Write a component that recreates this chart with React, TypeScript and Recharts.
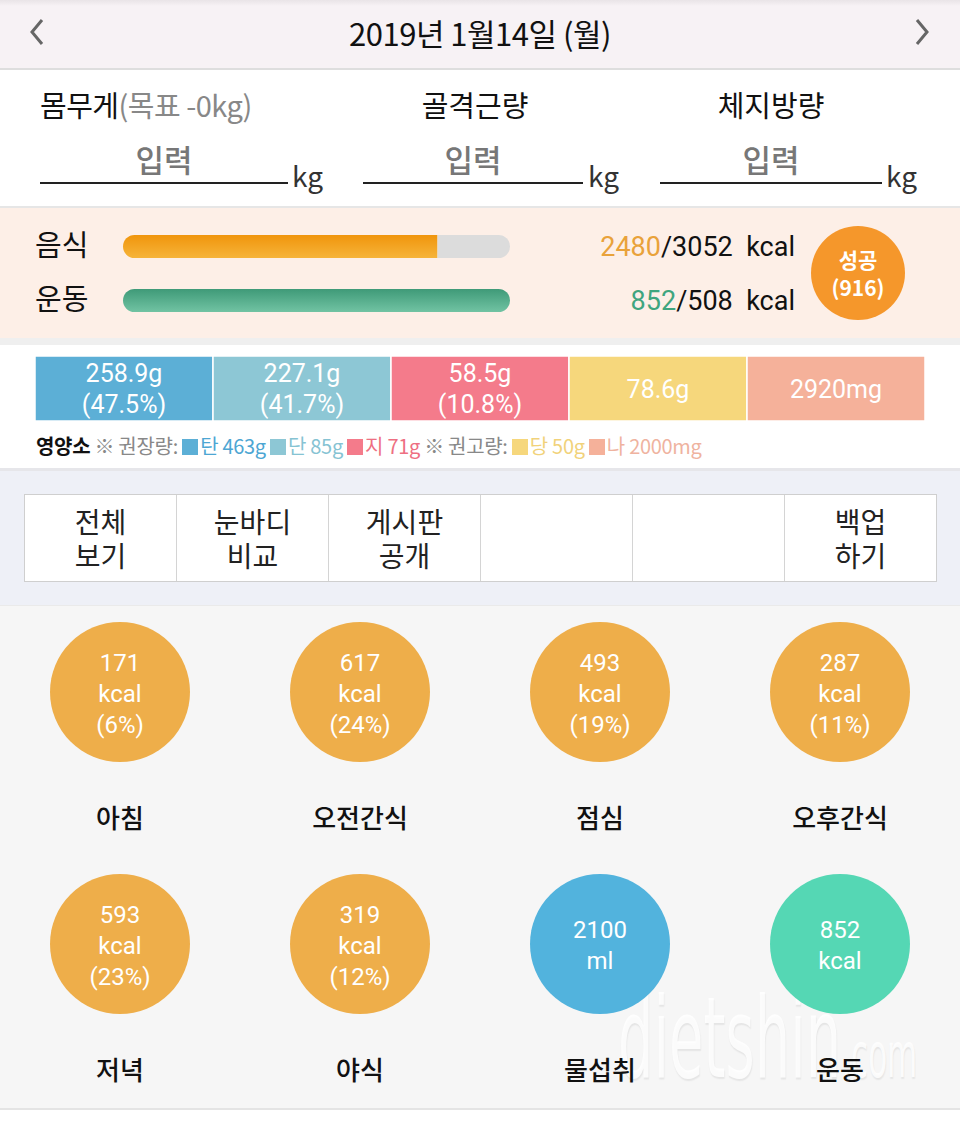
import React from 'react';
import { BarChart, Bar, XAxis, YAxis, ScatterChart, Scatter, LabelList, Cell } from 'recharts';

const DATE_LABEL = '2019년 1월14일 (월)';
const BODY_LABELS = ['몸무게', '골격근량', '체지방량'];
const WEIGHT_GOAL = '(목표 -0kg)';

const ENERGY_NAMES = ['음식', '운동'];
const ENERGY_VALUES = [2480, 852];
const ENERGY_GOALS = [3052, 508];
const RESULT_LABEL = '성공';
const RESULT_VALUE = 916;

const NUTRIENT_NAMES = ['탄', '단', '지', '당', '나'];
const NUTRIENT_AMOUNTS = ['258.9g', '227.1g', '58.5g', '78.6g', '2920mg'];
const NUTRIENT_PCTS = ['47.5%', '41.7%', '10.8%', '', ''];
const NUTRIENT_LIMITS = ['463g', '85g', '71g', '50g', '2000mg'];

const MENU_LABELS = [['전체', '보기'], ['눈바디', '비교'], ['게시판', '공개'], [], [], ['백업', '하기']];

const MEAL_NAMES = ['아침', '오전간식', '점심', '오후간식', '저녁', '야식', '물섭취', '운동'];
const MEAL_VALUES = [171, 617, 493, 287, 593, 319, 2100, 852];
const MEAL_UNITS = ['kcal', 'kcal', 'kcal', 'kcal', 'kcal', 'kcal', 'ml', 'kcal'];
const MEAL_PCTS = [6, 24, 19, 11, 23, 12, null, null];
const MEAL_KINDS = ['food', 'food', 'food', 'food', 'food', 'food', 'water', 'exercise'];

const KR = '"Noto Sans CJK KR", "Noto Sans", sans-serif';
const NUM = 'Roboto, "Noto Sans", sans-serif';

const NUTRIENT_COLORS = ['#5cafd6', '#8dc7d5', '#f47b8b', '#f6d77c', '#f5b19a'];
const NUTRIENT_TEXT = ['#4da6d3', '#86c3d3', '#ee6f82', '#f1d27a', '#efb3a0'];
const KIND_COLORS: Record<string, string> = { food: '#eeae4a', water: '#52b3dd', exercise: '#55d7b4' };

const energyData = ENERGY_NAMES.map((name, i) => {
  const ratio = Math.min(ENERGY_VALUES[i] / ENERGY_GOALS[i], 1);
  return { name, ratio, rest: 1 - ratio };
});

const nutrientData = NUTRIENT_NAMES.map((name, i) => ({
  name,
  amount: NUTRIENT_AMOUNTS[i],
  pct: NUTRIENT_PCTS[i],
  tile: 1,
}));

const mealData = MEAL_NAMES.map((name, i) => ({
  name,
  value: MEAL_VALUES[i],
  unit: MEAL_UNITS[i],
  pct: MEAL_PCTS[i],
  kind: MEAL_KINDS[i],
  col: i % 4,
  row: Math.floor(i / 4),
}));

function roundedPath(x: number, y: number, w: number, h: number, rl: number, rr: number) {
  return `M${x + rl},${y} L${x + w - rr},${y} A${rr},${rr} 0 0 1 ${x + w - rr},${y + h} L${x + rl},${y + h} A${rl},${rl} 0 0 1 ${x + rl},${y} Z`;
}

function EnergyFill(props: any) {
  const { x, y, width, height, payload } = props;
  if (!width) return null;
  const r = height / 2;
  const full = payload.rest <= 0;
  const fill = payload.name === '음식' ? 'url(#gradFood)' : 'url(#gradExercise)';
  return <path d={roundedPath(x, y, width, height, r, full ? r : 0)} fill={fill} />;
}

function EnergyRest(props: any) {
  const { x, y, width, height } = props;
  if (!width || width <= 0) return null;
  const r = height / 2;
  return <path d={roundedPath(x, y, width, height, 0, r)} fill="#dcdcdc" />;
}

function NutrientLabel(props: any) {
  const { x, y, width, height, index } = props;
  const row = nutrientData[index];
  const cx = x + width / 2;
  const cy = y + height / 2;
  const style = { fontFamily: NUM, fontSize: 25, fill: '#fff' };
  if (row.pct) {
    return (
      <g>
        <text x={cx} y={cy - 7} textAnchor="middle" style={style}>{row.amount}</text>
        <text x={cx} y={cy + 24} textAnchor="middle" style={style}>({row.pct})</text>
      </g>
    );
  }
  return <text x={cx} y={cy + 9} textAnchor="middle" style={style}>{row.amount}</text>;
}

function MealDot(props: any) {
  const { cx, cy, payload } = props;
  const lines = payload.pct != null
    ? [String(payload.value), payload.unit, `(${payload.pct}%)`]
    : [String(payload.value), payload.unit];
  const start = payload.pct != null ? cy - 30 : cy - 15;
  return (
    <g>
      <circle cx={cx} cy={cy} r={70} fill={KIND_COLORS[payload.kind]} />
      {lines.map((t, i) => (
        <text key={i} x={cx} y={start + i * 31 + 9} textAnchor="middle"
          style={{ fontFamily: NUM, fontSize: 24, fill: '#fff' }}>{t}</text>
      ))}
      <text x={cx} y={cy + 136} textAnchor="middle"
        style={{ fontFamily: KR, fontSize: 26, fontWeight: 500, fill: '#111' }}>{payload.name}</text>
    </g>
  );
}

function Chevron({ x, dir }: { x: number; dir: number }) {
  return (
    <svg width={20} height={30} style={{ position: 'absolute', left: x, top: 17 }}>
      <polyline points={dir < 0 ? '15,3 5,15 15,27' : '5,3 15,15 5,27'}
        fill="none" stroke="#666" strokeWidth={3} />
    </svg>
  );
}

const abs = (left: number, top: number, extra: React.CSSProperties = {}): React.CSSProperties => ({
  position: 'absolute', left, top, ...extra,
});

export default function App() {
  const bodyCols = [
    { labelX: 40, labelAnchor: 'left', inputX: 164, line: [40, 288], kg: 292 },
    { labelX: 475, labelAnchor: 'center', inputX: 473, line: [363, 583], kg: 588 },
    { labelX: 771, labelAnchor: 'center', inputX: 771, line: [660, 882], kg: 886 },
  ];
  return (
    <div style={{ position: 'absolute', left: 0, top: 0, width: 960, height: 1123, overflow: 'hidden', background: '#fff', fontFamily: KR }}>
      {/* header */}
      <div style={abs(0, 0, { width: 960, height: 68, background: 'linear-gradient(#e9e4e7 0px, #f7f2f5 6px)', borderBottom: '2px solid #dedede' })} />
      <Chevron x={27} dir={-1} />
      <Chevron x={912} dir={1} />
      <div style={abs(0, 13, { width: 960, textAlign: 'center', fontSize: 31, color: '#111', lineHeight: '40px', letterSpacing: -0.5 })}>{DATE_LABEL}</div>

      {/* body composition */}
      {bodyCols.map((c, i) => (
        <React.Fragment key={i}>
          {c.labelAnchor === 'left' ? (
            <div style={abs(c.labelX, 83, { fontSize: 29, lineHeight: '42px', color: '#111', whiteSpace: 'nowrap', letterSpacing: -0.5 })}>
              {BODY_LABELS[i]}<span style={{ color: '#888' }}>{WEIGHT_GOAL}</span>
            </div>
          ) : (
            <div style={abs(c.labelX - 100, 83, { width: 200, textAlign: 'center', fontSize: 29, lineHeight: '42px', color: '#111' })}>{BODY_LABELS[i]}</div>
          )}
          <div style={abs(c.inputX - 60, 138, { width: 120, textAlign: 'center', fontSize: 31, lineHeight: '42px', color: '#777', fontWeight: 500 })}>입력</div>
          <div style={abs(c.line[0], 182, { width: c.line[1] - c.line[0], height: 2, background: '#222' })} />
          <div style={abs(c.kg, 155, { fontSize: 28, lineHeight: '40px', color: '#333' })}>kg</div>
        </React.Fragment>
      ))}
      <div style={abs(0, 206, { width: 960, height: 2, background: '#e6e6e6' })} />

      {/* energy */}
      <div style={abs(0, 208, { width: 960, height: 130, background: '#fdefe7' })} />
      <div style={abs(0, 208)}>
        <BarChart width={510} height={130} data={energyData} layout="vertical"
          margin={{ top: 11, right: 0, bottom: 11, left: 0 }} barSize={23}>
          <defs>
            <linearGradient id="gradFood" x1="0" y1="0" x2="0" y2="1">
              <stop offset="0%" stopColor="#f0950c" />
              <stop offset="100%" stopColor="#f6b43a" />
            </linearGradient>
            <linearGradient id="gradExercise" x1="0" y1="0" x2="0" y2="1">
              <stop offset="0%" stopColor="#3f9a78" />
              <stop offset="100%" stopColor="#71c3a3" />
            </linearGradient>
          </defs>
          <XAxis type="number" domain={[0, 1]} hide />
          <YAxis type="category" dataKey="name" width={123} axisLine={false} tickLine={false}
            tick={(p: any) => (
              <text x={35} y={p.y + 10} textAnchor="start" style={{ fontFamily: KR, fontSize: 29, fill: '#111' }}>{p.payload.value}</text>
            )} />
          <Bar dataKey="ratio" stackId="e" shape={EnergyFill} isAnimationActive={false} />
          <Bar dataKey="rest" stackId="e" shape={EnergyRest} isAnimationActive={false} />
        </BarChart>
      </div>
      {ENERGY_NAMES.map((n, i) => (
        <div key={n} style={abs(495, 228 + i * 54, { width: 300, textAlign: 'right', fontSize: 27, lineHeight: '38px', color: '#111', fontFamily: NUM, whiteSpace: 'pre' })}>
          <span style={{ color: i === 0 ? '#e9a23a' : '#3fa57f' }}>{ENERGY_VALUES[i]}</span>/{ENERGY_GOALS[i]}  kcal
        </div>
      ))}
      <div style={abs(811, 226, { width: 94, height: 94, borderRadius: 47, background: '#f5972b', color: '#fff', textAlign: 'center', fontWeight: 700, fontSize: 21, lineHeight: '28px', paddingTop: 19, boxSizing: 'border-box' })}>
        {RESULT_LABEL}<br />({RESULT_VALUE})
      </div>
      <div style={abs(0, 338, { width: 960, height: 7, background: '#efefef' })} />

      {/* nutrients */}
      <div style={abs(35, 356)}>
        <BarChart width={890} height={65} data={nutrientData} barCategoryGap={0}
          margin={{ top: 0, right: 0, bottom: 0, left: 0 }}>
          <XAxis dataKey="name" hide />
          <YAxis domain={[0, 1]} hide width={0} />
          <Bar dataKey="tile" stroke="#fff" strokeWidth={1.5} isAnimationActive={false}>
            {nutrientData.map((d, i) => <Cell key={d.name} fill={NUTRIENT_COLORS[i]} />)}
            <LabelList dataKey="amount" content={NutrientLabel} />
          </Bar>
        </BarChart>
      </div>
      <div style={abs(36, 430, { fontSize: 20, lineHeight: '32px', color: '#888', whiteSpace: 'nowrap', letterSpacing: -0.3 })}>
        <b style={{ color: '#111' }}>영양소</b> ※ 권장량:{' '}
        {NUTRIENT_NAMES.map((n, i) => (
          <React.Fragment key={n}>
            {i === 3 ? <span style={{ color: '#888' }}>※ 권고량: </span> : null}
            <span style={{ display: 'inline-block', width: 16, height: 16, background: NUTRIENT_COLORS[i], verticalAlign: -1, marginRight: 2 }} />
            <span style={{ color: NUTRIENT_TEXT[i] }}>{n} {NUTRIENT_LIMITS[i]}</span>{' '}
          </React.Fragment>
        ))}
      </div>
      <div style={abs(0, 468, { width: 960, height: 3, background: '#e6e6ea' })} />

      {/* menu */}
      <div style={abs(0, 471, { width: 960, height: 134, background: '#eef0f7' })} />
      <div style={abs(24, 494, { width: 913, height: 88, display: 'flex', border: '1px solid #cfcfcf', boxSizing: 'border-box', background: '#fff' })}>
        {MENU_LABELS.map((m, i) => (
          <div key={i} style={{ flex: 1, borderLeft: i ? '1px solid #d4d4d4' : 'none', textAlign: 'center', fontSize: 28, lineHeight: '34px', paddingTop: 9, color: '#222' }}>
            {m[0] || ''}{m.length ? <br /> : null}{m[1] || ''}
          </div>
        ))}
      </div>

      {/* meals */}
      <div style={abs(0, 605, { width: 960, height: 505, background: '#f6f6f6', borderTop: '1px solid #eaeaea', borderBottom: '2px solid #e4e4e4', boxSizing: 'border-box' })} />
      <div style={abs(618, 982, { fontFamily: '"DejaVu Sans", sans-serif', fontSize: 112, lineHeight: '112px', color: 'rgba(255,255,255,0.85)', textShadow: '1px 2px 2px rgba(0,0,0,0.07)', whiteSpace: 'nowrap', transform: 'scaleX(0.5)', transformOrigin: '0 0' })}>
        dietshin<span style={{ fontSize: 62 }}>.com</span>
      </div>
      <div style={abs(0, 605)}>
        <ScatterChart width={960} height={505} margin={{ top: 87, right: 0, bottom: 166, left: 0 }}>
          <XAxis type="number" dataKey="col" domain={[-0.5, 3.5]} hide />
          <YAxis type="number" dataKey="row" domain={[0, 1]} reversed hide width={0} />
          <Scatter data={mealData} shape={MealDot} isAnimationActive={false} />
        </ScatterChart>
      </div>
    </div>
  );
}
